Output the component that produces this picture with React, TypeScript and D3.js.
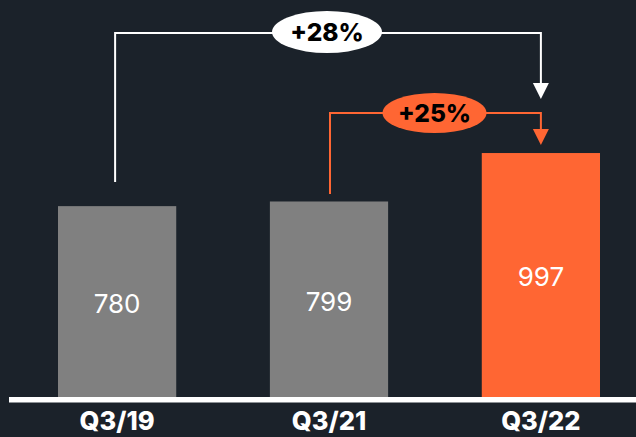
import React from 'react';
import * as d3 from 'd3';

const categories = ['Q3/19', 'Q3/21', 'Q3/22'];
const values = [780, 799, 997];
const barColors = ['#808080', '#808080', '#ff6633'];
const growthLabels = ['+28%', '+25%'];

const W = 636;
const H = 437;
const BG = '#1b222a';
const ORANGE = '#ff6633';
const FONT = "Inter, 'Noto Sans', sans-serif";

const App = () => {
  const x = d3.scaleBand<string>()
    .domain(categories)
    .range([58, 600])
    .paddingInner(0.442)
    .paddingOuter(0);

  const y = d3.scaleLinear()
    .domain([0, 1000])
    .range([397, 152.3]);

  const cx = (c: string) => (x(c) ?? 0) + x.bandwidth() / 2;

  // annotation levels
  const orangeTop = 113;
  const whiteTop = 33;
  const arrowH = 16;
  const arrowW = 16;

  const arrow = (xEnd: number, tip: number, color: string) => (
    <path
      d={`M${xEnd - arrowW / 2},${tip - arrowH} L${xEnd + arrowW / 2},${tip - arrowH} L${xEnd},${tip} Z`}
      fill={color}
    />
  );

  const endX = cx(categories[2]);
  const whiteStart = cx(categories[0]) - 2;
  const orangeStart = cx(categories[1]) + 1;
  const whiteTip = 99;
  const orangeTip = y(values[2]) - 8;

  return (
    <svg width={W} height={H} style={{ position: 'absolute', left: 0, top: 0, background: BG }}>
      <rect x={0} y={0} width={W} height={H} fill={BG} />

      {/* bars */}
      {categories.map((c, i) => (
        <g key={c}>
          <rect
            x={x(c)}
            y={y(values[i])}
            width={x.bandwidth()}
            height={y(0) - y(values[i])}
            fill={barColors[i]}
          />
          <text
            x={cx(c)}
            y={(y(values[i]) + y(0)) / 2 + 2}
            dy="0.36em"
            textAnchor="middle"
            fill="#ffffff"
            fontFamily={FONT}
            fontSize={26}
            fontWeight={400}
          >
            {values[i]}
          </text>
          <text
            x={cx(c)}
            y={421}
            dy="0.36em"
            textAnchor="middle"
            fill="#ffffff"
            fontFamily={FONT}
            fontSize={25.5}
            fontWeight={800}
          >
            {c}
          </text>
        </g>
      ))}

      {/* baseline */}
      <rect x={9} y={397} width={W - 9} height={5.5} fill="#ffffff" />

      {/* white bracket */}
      <path
        d={`M${whiteStart},182 V${whiteTop} H${endX} V${whiteTip - arrowH}`}
        fill="none"
        stroke="#ffffff"
        strokeWidth={2}
      />
      {arrow(endX, whiteTip, '#ffffff')}
      <ellipse cx={327} cy={whiteTop - 1} rx={55} ry={21} fill="#ffffff" />
      <text
        x={327}
        y={whiteTop - 1}
        dy="0.36em"
        textAnchor="middle"
        fill="#000000"
        fontFamily={FONT}
        fontSize={24.5}
        fontWeight={800}
      >
        {growthLabels[0]}
      </text>

      {/* orange bracket */}
      <path
        d={`M${orangeStart},194 V${orangeTop} H${endX} V${orangeTip - arrowH}`}
        fill="none"
        stroke={ORANGE}
        strokeWidth={2}
      />
      {arrow(endX, orangeTip, ORANGE)}
      <ellipse cx={434.5} cy={orangeTop} rx={52} ry={20} fill={ORANGE} />
      <text
        x={434.5}
        y={orangeTop}
        dy="0.36em"
        textAnchor="middle"
        fill="#000000"
        fontFamily={FONT}
        fontSize={24.5}
        fontWeight={800}
      >
        {growthLabels[1]}
      </text>
    </svg>
  );
};

export default App;
